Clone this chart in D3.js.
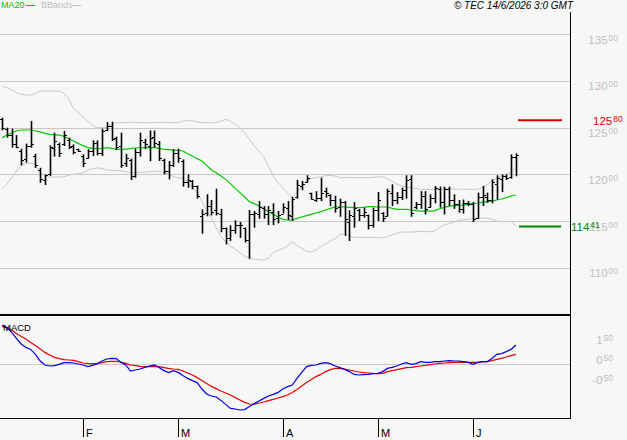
<!DOCTYPE html>
<html><head><meta charset="utf-8">
<script src="https://cdn.jsdelivr.net/npm/d3@7"></script>
<style>
html,body{margin:0;padding:0;background:#f7f7f7;}
svg{display:block;font-family:"Liberation Sans",Arial,sans-serif;}
</style></head>
<body><div id="chart"></div>
<script>
// ---- DATA ----
const highs = [126.07,125.0,124.9,124.2,122.75,123.29,125.71,122.2,120.7,120.0,
123.1,124.46,123.4,124.64,123.93,123.21,122.75,122.14,122.7,123.64,
123.64,124.89,125.6,125.64,124.04,124.46,122.2,121.68,122.75,124.46,
123.8,124.7,124.7,123.57,121.68,121.43,122.7,122.75,121.6,120.0,
119.4,118.8,116.25,117.86,117.25,118.46,116.3,114.3,114.54,115.07,
114.9,114.3,116.18,116.07,117.14,116.6,116.6,116.9,116.07,116.9,
117.14,117.6,119.4,119.3,119.9,118.04,118.2,119.64,118.57,117.86,
117.7,117.4,117.14,116.14,117.04,116.3,116.43,115.7,116.43,118.1,
115.96,118.46,118.93,118.1,118.57,119.9,119.9,117.04,118.2,118.2,
117.86,118.75,118.68,118.68,118.68,117.86,117.25,117.3,117.14,117.04,
118.04,118.75,118.04,119.46,119.9,120.0,120.0,122.14,122.25];
const lows = [124.71,123.93,122.86,122.8,120.96,121.25,122.86,120.7,119.1,118.86,
119.82,121.9,121.86,123.04,122.7,122.14,122.39,120.79,121.68,121.96,
122.04,121.96,124.64,123.57,122.6,120.7,120.8,119.4,119.64,121.9,
122.7,121.4,122.86,121.43,120.0,119.46,120.8,121.25,118.68,118.57,
118.4,117.4,113.64,115.5,115.6,115.6,113.8,112.5,112.86,113.64,
113.2,112.7,110.96,114.29,115.25,115.25,114.57,114.57,114.75,115.8,
115.1,115.0,117.4,118.3,119.1,117.3,117.07,117.14,117.5,116.6,
115.9,115.46,113.4,112.86,114.29,115.0,115.36,114.1,114.29,115.0,
114.9,115.5,116.6,116.8,117.25,117.4,115.46,116.25,116.3,115.7,
116.43,116.9,116.43,115.7,116.6,116.3,115.9,115.8,116.6,114.9,
115.25,116.6,116.96,116.9,117.3,118.1,119.4,119.54,119.8];
const opens = [125.9,124.9,124.2,123.3,122.5,121.6,123.0,122.0,120.5,119.4,
120.0,122.8,123.2,123.3,123.7,123.0,122.7,122.0,121.8,122.5,
123.4,122.3,124.8,125.2,123.9,123.0,121.2,121.5,119.8,122.4,
123.5,123.0,124.0,123.3,121.5,120.4,121.0,122.3,121.4,119.2,
119.3,118.7,115.5,115.9,116.6,116.2,115.8,114.2,113.2,114.0,
114.6,114.2,113.0,115.8,115.8,116.4,115.8,116.0,115.3,115.8,
116.4,115.5,117.6,118.8,119.2,118.0,117.3,117.5,118.2,117.8,
117.3,116.5,117.0,114.9,115.5,116.2,115.6,115.6,114.6,116.2,
115.9,115.5,118.0,117.3,117.6,118.3,119.5,116.5,116.8,117.7,
116.5,117.5,118.4,117.0,118.4,117.2,116.8,116.3,116.9,116.8,
115.3,117.6,117.6,117.2,119.0,119.5,119.8,119.7,121.9];
const closes = [125.0,124.2,123.2,122.9,121.5,123.0,123.3,121.0,119.5,119.9,
122.9,123.6,122.3,124.2,122.9,122.4,122.5,121.2,122.5,123.4,
122.3,124.6,125.2,123.8,122.9,121.0,121.8,119.8,122.4,123.7,
123.2,123.9,123.4,121.8,120.4,121.0,122.3,121.7,119.2,119.4,
118.8,117.7,115.8,116.6,116.0,115.9,114.3,113.2,114.0,114.6,
114.6,113.0,115.8,115.9,116.5,115.8,116.2,115.2,115.6,116.5,
115.6,117.4,118.9,119.0,119.6,117.4,117.5,118.0,118.0,117.3,
116.4,117.0,115.2,115.6,116.4,115.6,116.0,114.6,116.2,117.3,
115.3,118.2,117.3,117.6,118.3,119.4,115.9,116.8,117.7,116.3,
117.5,118.5,117.0,118.4,117.2,116.8,116.3,116.9,116.8,115.2,
117.6,117.8,117.2,119.2,119.6,119.8,119.6,121.9,122.1];
const ma20 = [123.93,124.18,124.46,124.64,124.75,124.75,124.75,124.64,124.54,124.39,
124.29,124.25,124.21,124.07,123.82,123.57,123.32,123.07,122.89,122.79,
122.75,122.79,122.86,122.79,122.71,122.68,122.71,122.75,122.82,122.86,
122.86,122.86,122.86,122.79,122.68,122.64,122.6,122.57,122.5,122.21,
121.96,121.68,121.43,120.96,120.46,120.18,119.82,119.46,119.0,118.5,
118.04,117.57,117.07,116.86,116.6,116.32,116.0,115.71,115.43,115.18,
115.11,115.11,115.29,115.43,115.57,115.71,115.86,116.0,116.18,116.36,
116.5,116.5,116.5,116.46,116.43,116.43,116.46,116.54,116.54,116.5,
116.5,116.5,116.36,116.25,116.25,116.25,116.18,116.11,116.07,116.07,
116.07,116.11,116.32,116.46,116.6,116.64,116.68,116.71,116.79,116.89,
116.93,117.0,117.07,117.14,117.25,117.36,117.5,117.68,117.79];
const bbUpper = [129.46,129.29,129.04,128.75,128.57,128.5,128.5,128.64,128.93,128.93,
128.93,128.93,128.93,128.68,128.1,127.04,126.6,126.14,125.71,125.25,
125.0,125.0,125.07,125.36,125.54,125.54,125.54,125.6,125.54,125.54,
125.5,125.54,125.54,125.58,125.54,125.54,125.54,125.54,125.71,125.75,
125.75,125.6,125.54,125.54,125.5,125.54,125.71,125.89,125.68,125.36,
124.93,124.46,123.75,123.04,122.5,121.89,120.89,119.82,119.11,118.57,
118.04,117.5,118.04,118.82,119.29,119.54,119.64,119.75,119.86,119.89,
119.82,119.64,119.64,119.64,119.64,119.64,119.64,119.64,119.68,119.71,
119.75,119.54,119.25,118.93,118.75,118.64,118.57,118.5,118.39,118.39,
118.39,118.42,118.42,118.46,118.46,118.42,118.42,118.4,118.4,118.4,
118.4,118.6,118.9,119.3,119.55,119.82,120.0,120.2,120.8];
const bbLower = [118.46,118.93,119.64,120.36,120.96,121.14,121.18,121.04,120.18,119.82,
119.71,119.71,119.71,119.75,119.89,120.0,120.07,120.18,120.43,120.61,
120.68,120.64,120.46,120.43,120.43,120.36,120.29,120.18,120.18,120.21,
120.25,120.29,120.32,120.32,120.18,120.0,119.75,119.64,119.54,119.29,
118.57,118.04,117.14,116.07,115.36,114.29,113.39,112.75,112.32,111.96,
111.6,111.25,110.96,110.89,110.86,110.82,111.0,111.6,111.89,112.04,
112.32,112.75,112.39,112.07,111.79,111.68,111.89,112.25,112.57,112.86,
113.11,113.57,113.61,113.39,113.25,113.25,113.25,113.25,113.25,113.21,
113.21,113.32,113.5,113.68,113.82,113.82,113.82,113.86,113.89,113.86,
113.86,113.93,114.29,114.57,114.75,114.89,115.07,115.14,115.18,115.25,
115.32,115.32,115.29,115.18,115.0,114.93,114.96,114.93,114.46];
const macd = [1.95,1.82,1.58,1.28,1.0,0.83,0.73,0.48,0.15,-0.05,
-0.10,-0.08,-0.02,0.07,0.07,0.05,0.0,-0.05,-0.13,-0.07,
0.02,0.15,0.25,0.28,0.27,0.08,-0.05,-0.35,-0.30,-0.25,
-0.17,-0.10,-0.05,-0.17,-0.33,-0.43,-0.33,-0.42,-0.58,-0.72,
-0.83,-0.93,-1.25,-1.5,-1.6,-1.65,-1.82,-2.02,-2.22,-2.25,
-2.3,-2.28,-2.13,-1.98,-1.85,-1.72,-1.6,-1.52,-1.42,-1.25,
-1.13,-1.05,-0.72,-0.42,-0.13,-0.07,-0.05,0.03,0.07,0.02,
-0.1,-0.18,-0.27,-0.38,-0.52,-0.55,-0.53,-0.52,-0.48,-0.47,
-0.38,-0.22,-0.17,-0.1,0.0,0.07,-0.02,0.02,0.12,0.08,
0.08,0.12,0.12,0.15,0.17,0.15,0.15,0.12,0.08,-0.02,
0.08,0.12,0.12,0.28,0.48,0.52,0.62,0.73,0.95];
const signal = [1.87,1.82,1.7,1.53,1.37,1.25,1.08,0.92,0.75,0.58,
0.45,0.33,0.27,0.22,0.2,0.18,0.12,0.05,0.03,0.02,
0.02,0.07,0.12,0.13,0.13,0.1,0.03,-0.05,-0.08,-0.12,
-0.13,-0.13,-0.12,-0.13,-0.18,-0.22,-0.25,-0.27,-0.35,-0.45,
-0.55,-0.68,-0.83,-0.98,-1.12,-1.23,-1.35,-1.45,-1.55,-1.68,
-1.8,-1.92,-2.0,-2.02,-1.95,-1.9,-1.83,-1.77,-1.7,-1.63,
-1.55,-1.43,-1.27,-1.1,-0.93,-0.78,-0.63,-0.52,-0.38,-0.28,
-0.22,-0.22,-0.25,-0.3,-0.35,-0.4,-0.43,-0.45,-0.47,-0.48,
-0.47,-0.38,-0.33,-0.28,-0.23,-0.18,-0.17,-0.13,-0.1,-0.07,
-0.03,0.0,0.03,0.05,0.07,0.08,0.08,0.08,0.08,0.08,
0.08,0.1,0.12,0.17,0.23,0.28,0.35,0.42,0.48];
const monthLabels = ["F","M","A","M","J"];
const monthStartIdx = [17,37,59,79,99];
const priceTicks = [110,115,120,125,130,135];
const macdTicks = [1.5,0.5,-0.5];
const resistance = 125.80;
const support = 114.41;
const legendItems = ["MA20","BBands"];
const stamp = "\u00a9 TEC 14/6/2026 3:0 GMT";

// ---- LAYOUT ----
const W = 627, H = 440;
const N = closes.length;
const plotRight = 570;
const svg = d3.select("#chart").append("svg").attr("width", W).attr("height", H);
svg.append("rect").attr("width", W).attr("height", H).attr("fill", "#f7f7f7");

const x = d3.scaleLinear().domain([0, N - 1]).range([2.15, 515.8]);
const y = d3.scaleLinear().domain([110, 135]).range([267.7, 34.3]);
const ym = d3.scaleLinear().domain([-2.5, 2.5]).range([414, 314]);

const GRID = "#c8c8c8", LBL = "#c0c0c0";

function splitLabel(v) {
  const s = Math.abs(v).toFixed(2).split(".");
  return [(v < 0 ? "-" : "") + s[0], s[1]];
}
function priceLabel(g, v, xx, yy, color, anchor) {
  const [a, b] = splitLabel(v);
  const t = g.append("text").attr("x", xx).attr("y", yy)
    .attr("text-anchor", anchor).attr("fill", color).style("font-size", "11.5px");
  t.append("tspan").text(a);
  t.append("tspan").attr("dx", 1).attr("dy", -3).style("font-size", "8.5px").text(b);
}

// main panel gridlines
const main = svg.append("g");
main.selectAll("line.grid").data(priceTicks).enter().append("line")
  .attr("x1", 0).attr("x2", plotRight)
  .attr("y1", d => Math.round(y(d)) + 0.5).attr("y2", d => Math.round(y(d)) + 0.5)
  .attr("stroke", GRID).attr("stroke-width", 1);
priceTicks.forEach(p => priceLabel(main, p, 618, y(p) + 9.5, LBL, "end"));

// Bollinger bands
const lineGen = arr => d3.line().x((d, i) => x(i)).y(d => y(d))(arr);
main.append("path").attr("d", lineGen(bbUpper)).attr("fill", "none").attr("stroke", GRID).attr("stroke-width", 1);
main.append("path").attr("d", lineGen(bbLower)).attr("fill", "none").attr("stroke", GRID).attr("stroke-width", 1);
// MA20
main.append("path").attr("d", lineGen(ma20)).attr("fill", "none").attr("stroke", "#00c800").attr("stroke-width", 1.2);

// OHLC bars
const bars = main.append("g").attr("stroke", "#000");
d3.range(N).forEach(i => {
  const cx = Math.round(x(i)) + 0.5;
  bars.append("line").attr("x1", cx).attr("x2", cx)
    .attr("y1", y(highs[i])).attr("y2", y(lows[i])).attr("stroke-width", 1.6);
  bars.append("line").attr("x1", cx - 2.5).attr("x2", cx)
    .attr("y1", Math.round(y(opens[i])) + 0.5).attr("y2", Math.round(y(opens[i])) + 0.5).attr("stroke-width", 1);
  bars.append("line").attr("x1", cx).attr("x2", cx + 2.5)
    .attr("y1", Math.round(y(closes[i])) + 0.5).attr("y2", Math.round(y(closes[i])) + 0.5).attr("stroke-width", 1);
});

// resistance / support
main.append("line").attr("x1", 518).attr("x2", 562).attr("y1", y(resistance)).attr("y2", y(resistance))
  .attr("stroke", "#dd0000").attr("stroke-width", 2);
priceLabel(main, resistance, 593, y(resistance) + 4.5, "#dd0000", "start");
main.append("line").attr("x1", 519).attr("x2", 561).attr("y1", y(support)).attr("y2", y(support))
  .attr("stroke", "#008800").attr("stroke-width", 2);
priceLabel(main, support, 571, y(support) + 4.5, "#008800", "start");

// main panel border
svg.append("line").attr("x1", plotRight + 0.5).attr("x2", plotRight + 0.5).attr("y1", 12).attr("y2", 316).attr("stroke", "#000");
svg.append("line").attr("x1", 0).attr("x2", plotRight + 1).attr("y1", 314.5).attr("y2", 314.5).attr("stroke", "#000");

// legend
const leg = svg.append("g").style("font-size", "9px");
leg.append("text").attr("x", 1).attr("y", 8).attr("fill", "#00c000").text(legendItems[0]);
leg.append("line").attr("x1", 26).attr("x2", 35).attr("y1", 5.5).attr("y2", 5.5).attr("stroke", "#00c000");
leg.append("text").attr("x", 41).attr("y", 8).attr("fill", LBL).text(legendItems[1]);
leg.append("line").attr("x1", 72).attr("x2", 81).attr("y1", 5.5).attr("y2", 5.5).attr("stroke", LBL);
svg.append("text").attr("x", 573).attr("y", 8.5).attr("text-anchor", "end")
  .style("font-size", "10px").style("font-style", "italic").attr("fill", "#000").text(stamp);

// MACD panel
const mp = svg.append("g");
mp.append("line").attr("x1", 0).attr("x2", plotRight).attr("y1", Math.round(ym(0)) + 0.5).attr("y2", Math.round(ym(0)) + 0.5)
  .attr("stroke", GRID);
macdTicks.forEach(v => priceLabel(mp, v, 613, ym(v) + 9.5, LBL, "end"));
const mline = arr => d3.line().x((d, i) => x(i)).y(d => ym(d))(arr);
mp.append("path").attr("d", mline(signal)).attr("fill", "none").attr("stroke", "#e00000").attr("stroke-width", 1.2);
mp.append("path").attr("d", mline(macd)).attr("fill", "none").attr("stroke", "#0000e0").attr("stroke-width", 1.2);
mp.append("text").attr("x", 3).attr("y", 331).style("font-size", "9.5px").attr("fill", "#000").text("MACD");
// MACD border
mp.append("line").attr("x1", 0).attr("x2", plotRight + 1).attr("y1", 315.5).attr("y2", 315.5).attr("stroke", "#000");
mp.append("line").attr("x1", 0).attr("x2", plotRight + 1).attr("y1", 418.5).attr("y2", 418.5).attr("stroke", "#000");
mp.append("line").attr("x1", plotRight + 0.5).attr("x2", plotRight + 0.5).attr("y1", 315).attr("y2", 419).attr("stroke", "#000");

// month axis
const ax = svg.append("g");
monthStartIdx.forEach((idx, k) => {
  const tx = Math.round(x(idx)) + 0.5;
  ax.append("line").attr("x1", tx).attr("x2", tx).attr("y1", 419).attr("y2", 437).attr("stroke", "#000");
  ax.append("text").attr("x", tx + 2.5).attr("y", 437).style("font-size", "11px").attr("fill", "#000").text(monthLabels[k]);
});
</script></body></html>
